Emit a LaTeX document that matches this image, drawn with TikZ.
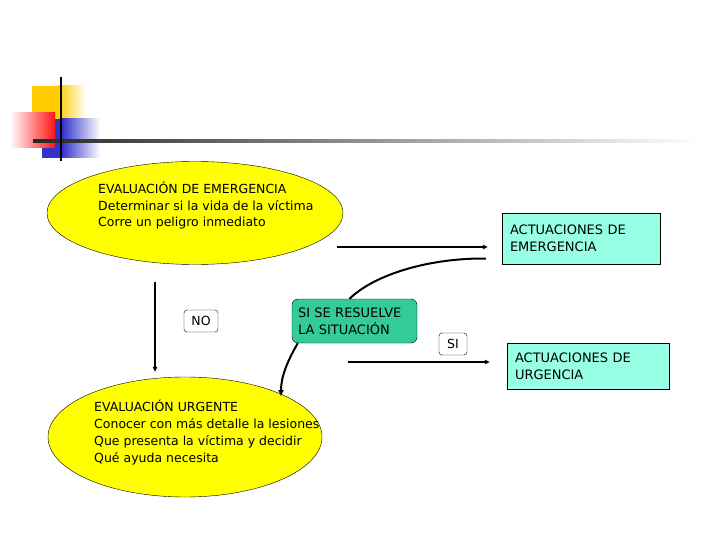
\documentclass[tikz,border=0pt]{standalone}
\usepackage{fontspec}
\setmainfont{DejaVu Sans}
\usetikzlibrary{arrows.meta, positioning, shapes.geometric, calc}

\definecolor{evalyellow}{RGB}{255,255,0}
\definecolor{actcyan}{RGB}{150,255,228}
\definecolor{solgreen}{RGB}{51,204,153}
\definecolor{decoyellow}{RGB}{255,204,0}
\definecolor{decored}{RGB}{255,20,20}
\definecolor{decoblue}{RGB}{51,51,204}

\begin{document}
\begin{tikzpicture}[x=1pt, y=-1pt,
    evalnode/.style={ellipse, draw=black, fill=evalyellow, thin, inner sep=0pt},
    evaltext/.style={anchor=north west, align=left, inner sep=0pt, font=\fontsize{12.5}{16.5}\selectfont},
    actbox/.style={rectangle, draw=black, fill=actcyan, thin, align=left, inner xsep=8pt, font=\fontsize{13}{17}\selectfont},
    solbox/.style={rectangle, rounded corners=6pt, draw=black, fill=solgreen, thin, align=left, inner xsep=6pt, font=\fontsize{13}{17}\selectfont},
    tag/.style={rectangle, rounded corners=3pt, draw=black, fill=white, thin, inner sep=2pt, minimum height=22pt, font=\fontsize{12.5}{15}\selectfont},
    line/.style={draw=black, line width=1.5pt, -{Triangle[length=5pt, width=4.5pt]}},
    curve/.style={draw=black, line width=2pt}
]
    \useasboundingbox (0,0) rectangle (720,540);

    % Title decoration
    \fill[decoyellow] (32,86) rectangle (58,119);
    \shade[left color=decoyellow, right color=white] (58,86) rectangle (86,119);
    \fill[decoblue] (42,119) rectangle (62,158);
    \shade[left color=decoblue, right color=white] (62,119) rectangle (100,158);
    \shade[left color=white, right color=decored] (10,113) rectangle (55,148);
    \shade[left color=black!85, right color=white] (33,139.5) rectangle (700,142.5);
    \draw[black, line width=2.5pt] (61,77) -- (61,161);

    % Evaluations
    \node[evalnode, minimum width=296pt, minimum height=103pt] (EV_EMERG) at (195,213) {};
    \node[evaltext] (T_EMERG) at (98,182) {EVALUACIÓN DE EMERGENCIA\\Determinar si la vida de la víctima\\Corre un peligro inmediato};

    \node[evalnode, minimum width=274pt, minimum height=120pt] (EV_URG) at (185,437) {};
    \node[evaltext, font=\fontsize{12.5}{17}\selectfont] (T_URG) at (94,400) {EVALUACIÓN URGENTE\\Conocer con más detalle la lesiones\\Que presenta la víctima y decidir\\Qué ayuda necesita};

    % Actions
    \node[actbox, text width=142pt, minimum height=51pt] (ACT_EMERG) at (581,238.5) {ACTUACIONES DE\\EMERGENCIA};
    \node[actbox, text width=146pt, minimum height=46pt] (ACT_URG) at (588,366) {ACTUACIONES DE\\URGENCIA};
    \node[solbox, text width=113pt, minimum height=44pt] (SOL) at (354.5,321) {SI SE RESUELVE\\LA SITUACIÓN};

    % Tags
    \node[tag, minimum width=34pt] (NO) at (201,321) {NO};
    \node[tag, minimum width=28pt] (SI) at (453,344) {SI};

    % Connections
    \coordinate (A_EMERG) at (337,247);
    \coordinate (A_URG) at (348,362);
    \coordinate (A_NO) at (155,282);
    \draw[line] (A_EMERG) -- ([xshift=-14pt]ACT_EMERG.west |- A_EMERG);
    \draw[line] (A_URG) -- ([xshift=-17pt]ACT_URG.west |- A_URG);
    \draw[line] (A_NO) -- ([yshift=5pt]A_NO |- EV_URG.north);
    \draw[curve] ([xshift=-16pt,yshift=-20pt]ACT_EMERG.west) .. controls (430,258) and (375,274) .. ([xshift=-5pt]SOL.north);
    \draw[curve, -{Triangle[length=6pt, width=5pt]}] ([xshift=6pt]SOL.south west) .. controls (288,360) and (281,376) .. (281,396);
\end{tikzpicture}
\end{document}
